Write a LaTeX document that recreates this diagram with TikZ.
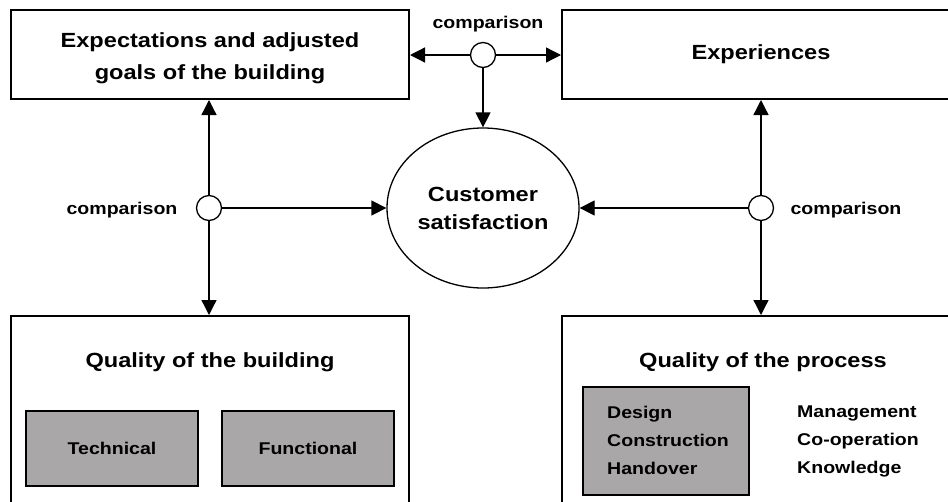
\documentclass[tikz,border=0pt]{standalone}
\usepackage{fontspec}
\setmainfont{Liberation Sans}[FakeStretch=1.15]
\usetikzlibrary{arrows.meta,shapes.geometric}
\newlength{\du}
\setlength{\du}{1pt}
\definecolor{dialinecolor}{rgb}{0.000000, 0.000000, 0.000000}
\definecolor{boxgray}{rgb}{0.663000, 0.655000, 0.659000}
\tikzset{
  bigbox/.style={draw=dialinecolor,line width=2\du,inner sep=0pt,minimum width=398\du},
  graybox/.style={draw=dialinecolor,fill=boxgray,line width=1.5\du,inner sep=0pt},
  cmp/.style={draw=dialinecolor,circle,fill=white,line width=1.3\du,minimum size=25\du,inner sep=0pt},
  arr/.style={line width=1.3\du,-{Triangle[length=15pt,width=15pt]}},
  bigtxt/.style={font=\bfseries\fontsize{20.5}{28}\selectfont,align=center},
  smalltxt/.style={font=\bfseries\fontsize{17}{28}\selectfont,align=left}
}
\begin{document}
\begin{tikzpicture}
\pgftransformxscale{1.000000}
\pgftransformyscale{-1.000000}
\useasboundingbox (0\du,0\du) rectangle (948\du,501\du);
\clip (0\du,0\du) rectangle (948\du,501\du);
% upper boxes
\node[bigbox,minimum height=89\du] (expect) at (210\du,54.5\du){};
\node[bigtxt,font=\bfseries\fontsize{20.5}{32}\selectfont] (expecttxt) at (210\du,58\du){Expectations and adjusted\\goals of the building};
\node[bigbox,minimum height=89\du,bigtxt] (exper) at (761\du,54.5\du){Experiences};
% lower boxes, cut off at the bottom
\node[bigbox,minimum height=210\du] (qbuild) at (210\du,421\du){};
\node[bigbox,minimum height=210\du] (qproc) at (761\du,421\du){};
\node[bigtxt] (qbuildtitle) at (210\du,362\du){Quality of the building};
\node[bigtxt] (qproctitle) at (763\du,362\du){Quality of the process};
\node[graybox,minimum width=172\du,minimum height=75\du,smalltxt] (tech) at (112\du,448.5\du){Technical};
\node[graybox,minimum width=172\du,minimum height=75\du,smalltxt] (func) at (308\du,448.5\du){Functional};
\node[graybox,minimum width=166\du,minimum height=108\du] (phase) at (666\du,441\du){};
\node[smalltxt,inner sep=0pt,anchor=west] (phasetxt) at (607\du,440\du){Design\\Construction\\Handover};
\node[smalltxt,inner sep=0pt,anchor=west] (factors) at (797\du,441.7\du){Management\\Co-operation\\Knowledge};
% centre
\node[draw=dialinecolor,ellipse,line width=1.3\du,minimum width=192\du,minimum height=160\du,inner sep=0pt,bigtxt] (sat) at (483\du,208\du){Customer\\satisfaction};
\node[cmp] (cmptop) at (483\du,55\du){};
\node[cmp] (cmpleft) at (209\du,208\du){};
\node[cmp] (cmpright) at (761\du,208\du){};
\node[smalltxt] (lbltop) at (488\du,24\du){comparison};
\node[smalltxt] (lblleft) at (122\du,209.6\du){comparison};
\node[smalltxt] (lblright) at (846\du,209.6\du){comparison};
% connectors
\draw[arr] (cmptop.west)--(cmptop -| expect.east);
\draw[arr] (cmptop.east)--(cmptop -| exper.west);
\draw[arr] (cmptop.south)--(sat.north);
\draw[arr] (cmpleft.north)--(cmpleft |- expect.south);
\draw[arr] (cmpleft.south)--(cmpleft |- qbuild.north);
\draw[arr] (cmpleft.east)--(sat.west);
\draw[arr] (cmpright.north)--(cmpright |- exper.south);
\draw[arr] (cmpright.south)--(cmpright |- qproc.north);
\draw[arr] (cmpright.west)--(sat.east);
\end{tikzpicture}
\end{document}
